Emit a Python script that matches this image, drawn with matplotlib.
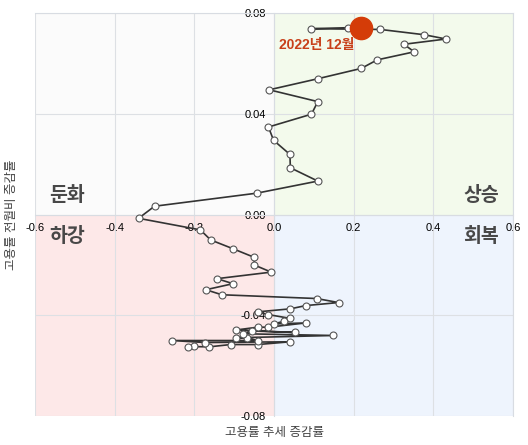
import matplotlib
matplotlib.use('Agg')
import matplotlib.pyplot as plt
from matplotlib.patches import Rectangle

plt.rcParams['font.family'] = ['Liberation Sans', 'Noto Sans CJK KR', 'DejaVu Sans']

# 고용률 추세 증감률 (x) / 고용률 전월비 증감률 (y), 시간순
trend_chg = [-0.200, -0.216, -0.162, -0.109, -0.041, 0.041, -0.173, -0.256, -0.041,
             -0.069, -0.095, 0.149, -0.079, -0.054, 0.053, -0.095, -0.041, -0.014,
             0.080, -0.001, 0.026, 0.041, -0.014, -0.041, 0.041, 0.080, 0.162, 0.107,
             -0.131, -0.171, -0.103, -0.143, -0.007, -0.049, -0.050, -0.103, -0.159,
             -0.185, -0.340, -0.300, -0.043, 0.110, 0.041, 0.040, -0.001, -0.014,
             0.094, 0.110, -0.012, 0.110, 0.219, 0.259, 0.352, 0.326, 0.432, 0.377,
             0.267, 0.093, 0.187, 0.219]
mom_chg = [-0.0524, -0.0525, -0.0526, -0.0517, -0.0517, -0.0506, -0.0509, -0.0501, -0.0501,
           -0.0490, -0.0490, -0.0481, -0.0474, -0.0463, -0.0469, -0.0459, -0.0448, -0.0448,
           -0.0431, -0.0435, -0.0424, -0.0413, -0.0398, -0.0387, -0.0375, -0.0362, -0.0350, -0.0334,
           -0.0319, -0.0299, -0.0275, -0.0255, -0.0229, -0.0201, -0.0170, -0.0136, -0.0101,
           -0.0061, -0.0015, 0.0033, 0.0085, 0.0133, 0.0186, 0.0239, 0.0295, 0.0348,
           0.0399, 0.0449, 0.0496, 0.0540, 0.0581, 0.0615, 0.0647, 0.0677, 0.0698, 0.0715,
           0.0736, 0.0739, 0.0743, 0.0740]
last_label = '2022년 12월'

xticks = [-0.6, -0.4, -0.2, 0.0, 0.2, 0.4, 0.6]
yticks = [-0.08, -0.04, 0.00, 0.04, 0.08]

fig = plt.figure(figsize=(5.28, 4.45), dpi=100)
ax = fig.add_axes([0.0663, 0.0658, 0.9053, 0.9042])
ax.set_xlim(-0.6, 0.6)
ax.set_ylim(-0.08, 0.08)

# quadrant backgrounds
quad = [(-0.6, 0, '#fbfbfb'), (0, 0, '#f3faec'), (-0.6, -0.08, '#fde8e8'), (0, -0.08, '#eef4fd')]
for qx, qy, qc in quad:
    ax.add_patch(Rectangle((qx, qy), 0.6, 0.08, facecolor=qc, edgecolor='none', zorder=0))

ax.set_xticks(xticks)
ax.set_yticks(yticks)
ax.set_xticklabels([f'{v:.1f}' for v in xticks])
ax.set_yticklabels([f'{v:.2f}' for v in yticks])
ax.grid(True, color='#dde0e4', linewidth=0.8, zorder=1)
ax.tick_params(length=0, labelsize=8, pad=6)
for lab in ax.get_xticklabels() + ax.get_yticklabels():
    lab.set_fontweight('bold')
    lab.set_color('#111111')

ax.spines['left'].set_position(('data', 0))
ax.spines['bottom'].set_position(('data', 0))
for s in ax.spines.values():
    s.set_color('#d8dce2')
    s.set_linewidth(0.8)

ax.plot(trend_chg, mom_chg, color='#333333', linewidth=1.2, marker='o', markersize=5,
        markerfacecolor='white', markeredgecolor='#555555', markeredgewidth=0.8, zorder=3)
ax.plot(trend_chg[-1], mom_chg[-1], marker='o', markersize=16, color='#d43c08',
        markeredgecolor='#d43c08', zorder=4)
ax.text(0.106, 0.0674, last_label, fontsize=10, fontweight='bold',
        color='#c8401a', ha='center', va='center', zorder=5)

qtext = dict(fontsize=14, fontweight='bold', color='#484848', va='center', zorder=5)
ax.text(-0.565, 0.0076, '둔화', ha='left', **qtext)
ax.text(0.565, 0.0076, '상승', ha='right', **qtext)
ax.text(-0.565, -0.0088, '하강', ha='left', **qtext)
ax.text(0.565, -0.0088, '회복', ha='right', **qtext)

fig.text(0.519, 0.027, '고용률 추세 증감률', ha='center', va='center', fontsize=9, color='#444444')
fig.text(0.023, 0.517, '고용률 전월비 증감률', ha='center', va='center', rotation=90,
         fontsize=9, color='#444444')

fig.savefig('out.png', dpi=100, facecolor='white')
